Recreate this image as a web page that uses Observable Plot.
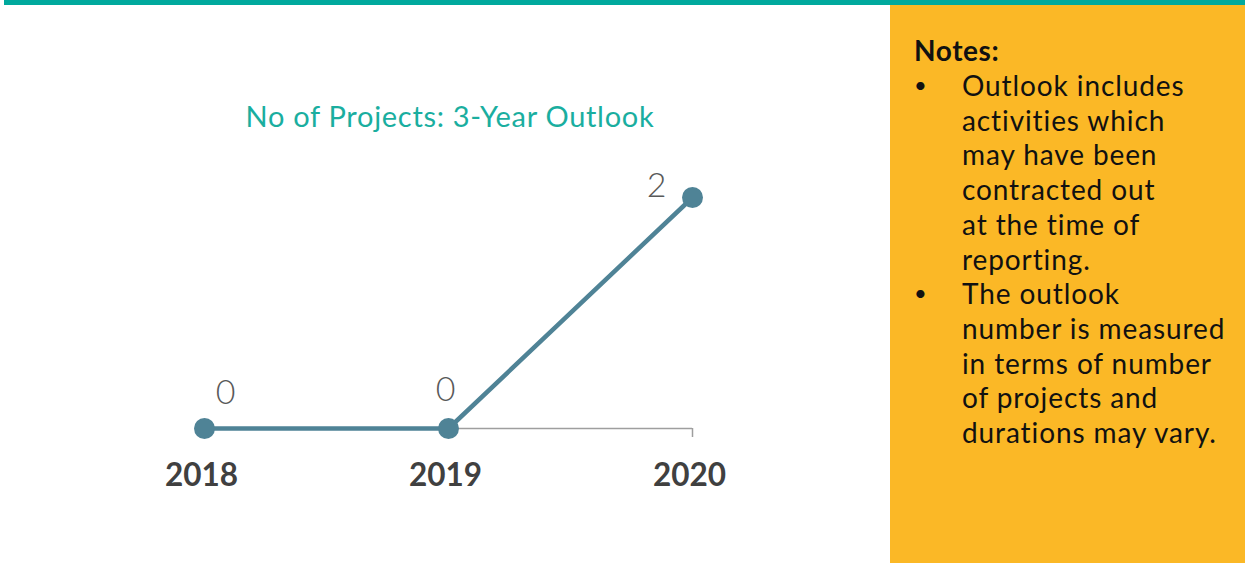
<!DOCTYPE html>
<html>
<head>
<meta charset="utf-8">
<script src="https://cdn.jsdelivr.net/npm/d3@7"></script>
<script src="https://cdn.jsdelivr.net/npm/@observablehq/plot@0.6"></script>
<style>
  html, body { margin: 0; padding: 0; background: #fff; }
  body { width: 1245px; height: 563px; position: relative; overflow: hidden; font-family: Lato, "Open Sans", sans-serif; }
  #topbar { position: absolute; left: 4px; top: 0; width: 1241px; height: 5px; background: #00A99D; }
  #notes { position: absolute; left: 890px; top: 5px; width: 355px; height: 558px; background: #FBB826; color: #111; }
  #notes h3 { position: absolute; left: 24px; top: 30px; margin: 0; font-size: 28px; font-weight: 700; line-height: 30px; letter-spacing: 0.6px; }
  #notes ul { position: absolute; left: 24px; top: 63px; margin: 0; padding: 0; list-style: none; font-size: 28px; line-height: 34.7px; letter-spacing: 0.9px; }
  #notes li { position: relative; padding-left: 48px; }
  #notes li::before { content: "•"; position: absolute; left: 0; top: 0; font-size: 22px; }
  #title { position: absolute; left: 0; width: 900px; top: 99px; text-align: center; color: #1AAE9F; font-size: 29px; line-height: 34px; letter-spacing: 0.7px; }
  #chart { position: absolute; left: 0; top: 0; }
</style>
</head>
<body>
<div id="topbar"></div>
<div id="title">No of Projects: 3-Year Outlook</div>
<div id="chart"></div>
<div id="notes">
  <h3>Notes:</h3>
  <ul>
    <li>Outlook includes<br>activities which<br>may have been<br>contracted out<br>at the time of<br>reporting.</li>
    <li>The outlook<br>number is measured<br>in terms of number<br>of projects and<br>durations may vary.</li>
  </ul>
</div>
<script>
const years = ["2018", "2019", "2020"];
const projects = [0, 0, 2];

const data = years.map((y, i) => ({year: y, value: projects[i]}));
const lineColor = "#4F8396";
const labelStyle = {fontSize: 34, fill: "#595959", fontWeight: 300};

const chart = Plot.plot({
  width: 890,
  height: 563,
  marginTop: 197,
  marginBottom: 135,
  marginLeft: 203,
  marginRight: 198,
  style: {fontFamily: "Lato, 'Open Sans', sans-serif", background: "transparent", overflow: "visible"},
  x: {type: "point", domain: years, padding: 0, label: null},
  y: {domain: [0, 2], axis: null},
  marks: [
    Plot.ruleY([0], {x1: () => years[0], x2: () => years[years.length - 1], stroke: "#9E9E9E", strokeWidth: 1.5}),
    Plot.axisX({tickSize: 9, text: null, stroke: "#9E9E9E", strokeWidth: 1.5, strokeOpacity: 1, label: null}),
    Plot.axisX({tickSize: 0, tickPadding: 35, fontSize: 31.5, fontWeight: 700, fill: "#404040", dx: -3, label: null}),
    Plot.line(data, {x: "year", y: "value", stroke: lineColor, strokeWidth: 4.5}),
    Plot.dot(data, {x: "year", y: "value", r: 10.5, fill: lineColor, stroke: "none"}),
    Plot.text(data.filter(d => d.year === "2018"), {x: "year", y: "value", text: d => String(d.value), dx: 21, dy: -35, ...labelStyle}),
    Plot.text(data.filter(d => d.year === "2019"), {x: "year", y: "value", text: d => String(d.value), dx: -3, dy: -38, ...labelStyle}),
    Plot.text(data.filter(d => d.year === "2020"), {x: "year", y: "value", text: d => String(d.value), dx: -36, dy: -11, ...labelStyle})
  ]
});
document.getElementById("chart").appendChild(chart);
</script>
</body>
</html>
